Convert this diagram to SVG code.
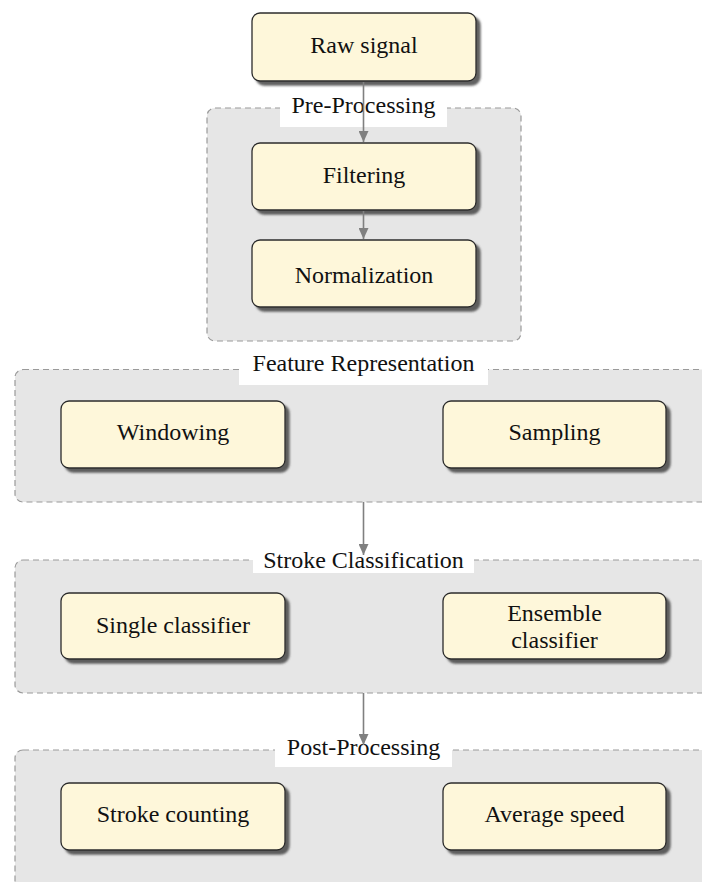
<svg xmlns="http://www.w3.org/2000/svg" width="702" height="882" viewBox="0 0 702 882">
<defs>
<style>
.grp{fill:#e6e6e6;stroke:#9a9a9a;stroke-width:1.2;stroke-dasharray:6 4}
.lbl{fill:#ffffff}
.node{fill:#fef7da;stroke:#2b2b2b;stroke-width:1.3;filter:url(#sh)}
text{font-family:"Liberation Serif","DejaVu Serif",serif;font-size:24px;fill:#111;text-anchor:middle}
.conn{stroke:#808080;stroke-width:1.6;fill:none;marker-end:url(#ah)}
</style>
<filter id="sh" x="-10%" y="-10%" width="130%" height="140%">
<feDropShadow dx="4" dy="4" stdDeviation="1.2" flood-color="#444" flood-opacity="0.85"/>
</filter>
<marker id="ah" markerUnits="userSpaceOnUse" markerWidth="12" markerHeight="10" refX="11" refY="5" orient="auto">
<path d="M0,0 L11,5 L0,10 z" fill="#808080"/>
</marker>
</defs>
<rect width="702" height="882" fill="#ffffff"/>

<g id="group-pre">
<rect class="grp" x="207" y="108" width="314" height="233" rx="8"/>
<rect class="lbl" x="280" y="96" width="167" height="31"/>
<text x="363.5" y="113">Pre-Processing</text>
</g>
<g id="group-feature">
<rect class="grp" x="15" y="369.5" width="720" height="132.5" rx="8"/>
<rect class="lbl" x="239" y="352" width="249" height="33"/>
<text x="363.5" y="371">Feature Representation</text>
</g>
<g id="group-stroke">
<rect class="grp" x="15" y="560" width="720" height="133" rx="8"/>
<rect class="lbl" x="253" y="549" width="221" height="24"/>
<text x="363.5" y="568">Stroke Classification</text>
</g>
<g id="group-post">
<rect class="grp" x="15" y="750" width="720" height="160" rx="8"/>
<rect class="lbl" x="275" y="737" width="177" height="30"/>
<text x="363.5" y="755">Post-Processing</text>
</g>

<g id="raw"><rect class="node" x="252" y="13" width="224" height="68" rx="8"/><text x="364" y="53">Raw signal</text></g>
<g id="filtering"><rect class="node" x="252" y="143" width="224" height="67" rx="8"/><text x="364" y="183">Filtering</text></g>
<g id="normalization"><rect class="node" x="252" y="240" width="224" height="67" rx="8"/><text x="364" y="283">Normalization</text></g>
<g id="windowing"><rect class="node" x="61" y="401" width="224" height="67" rx="8"/><text x="173" y="440">Windowing</text></g>
<g id="sampling"><rect class="node" x="443" y="401" width="223" height="67" rx="8"/><text x="554.5" y="440">Sampling</text></g>
<g id="single"><rect class="node" x="61" y="593" width="224" height="66" rx="8"/><text x="173" y="633">Single classifier</text></g>
<g id="ensemble"><rect class="node" x="443" y="593" width="223" height="66" rx="8"/><text x="554.5" y="621">Ensemble</text><text x="554.5" y="648">classifier</text></g>
<g id="counting"><rect class="node" x="61" y="783" width="224" height="67" rx="8"/><text x="173" y="822">Stroke counting</text></g>
<g id="speed"><rect class="node" x="443" y="783" width="223" height="67" rx="8"/><text x="554.5" y="822">Average speed</text></g>

<g id="connectors">
<line class="conn" x1="363.5" y1="82" x2="363.5" y2="142"/>
<line class="conn" x1="363.5" y1="211" x2="363.5" y2="239"/>
<line class="conn" x1="363.5" y1="502" x2="363.5" y2="555"/>
<line class="conn" x1="363.5" y1="693" x2="363.5" y2="745"/>
</g>
</svg>
